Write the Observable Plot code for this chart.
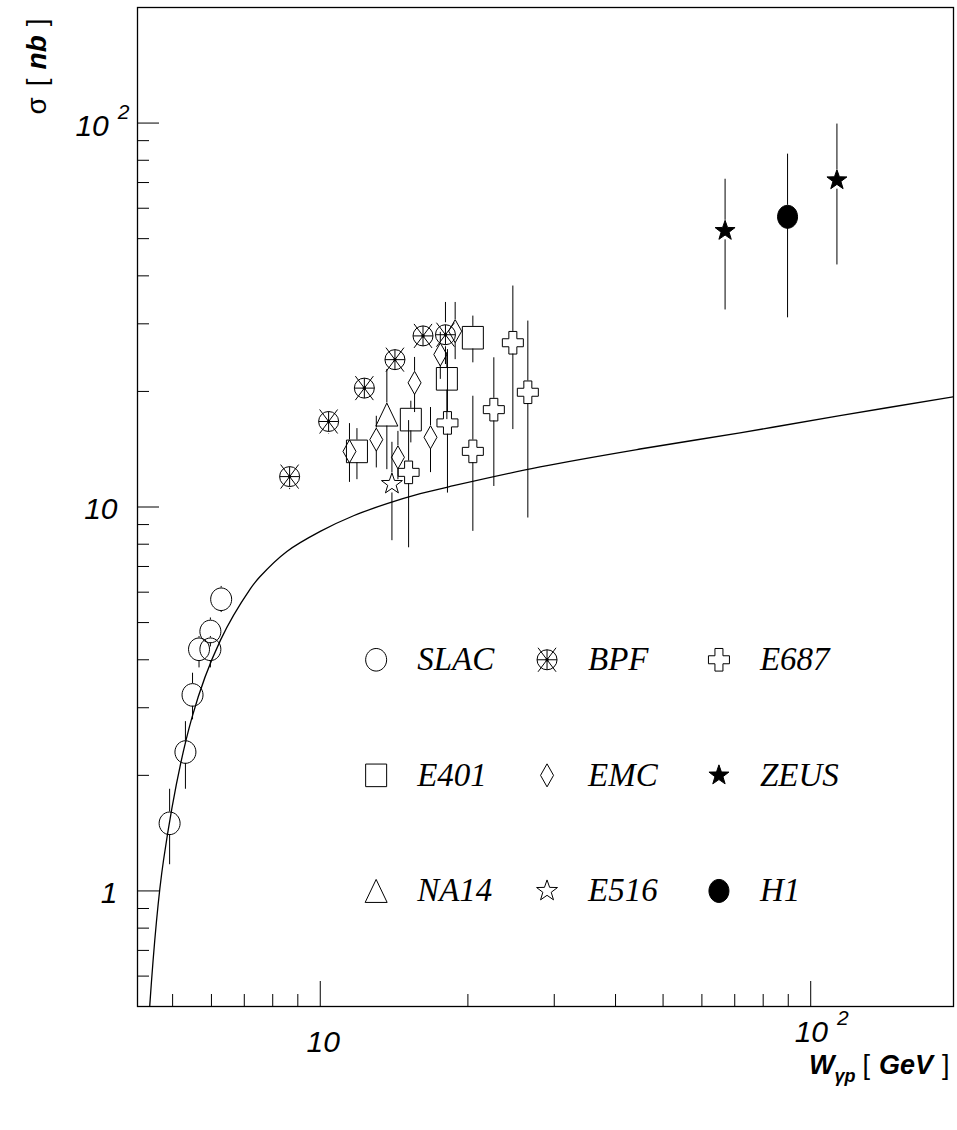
<!DOCTYPE html>
<html><head><meta charset="utf-8">
<script src="https://cdn.jsdelivr.net/npm/d3@7"></script>
<script src="https://cdn.jsdelivr.net/npm/@observablehq/plot@0.6"></script>
<style>body{margin:0;background:#fff}#chart svg{display:block;background:#fff}</style>
</head><body><div id="chart"></div>
<script>
// ---- data: rows are [W (GeV), sigma (nb), sigma at lower bar end, sigma at upper bar end]
const SLAC = [[4.93,1.50,1.17,1.84],[5.31,2.30,1.84,2.76],[5.49,3.24,2.79,3.69],[5.66,4.26,3.81,4.6],[5.97,4.26,3.81,4.6],[5.97,4.74,4.32,5.14],[6.28,5.75,5.31,6.21]];
const BPF  = [[8.66,12.0,11.1,12.9],[10.4,16.7,15.5,17.9],[12.3,20.4,19.0,21.9],[14.2,24.2,22.6,26.0],[16.2,27.9,26.0,29.9],[18.0,28.1,23.5,34.1]];
const E401 = [[11.88,13.96,11.78,16.0],[15.30,16.89,14.69,18.86],[18.12,21.57,16.89,25.26],[20.47,27.6,23.74,31.42]];
const EMC  = [[11.47,13.96,11.59,16.49],[13.01,14.98,12.64,17.23],[14.40,13.47,11.78,15.74],[15.57,21.06,17.62,24.52],[16.78,15.19,12.29,18.16],[17.57,24.96,21.5,28.5],[18.84,28.71,24.2,34.1]];
const NA14 = [[13.67,17.41,12.51,22.81]];
const E516 = [[14.0,11.48,8.17,14.74]];
const E687 = [[15.14,12.31,7.83,16.79],[18.17,16.56,10.87,25.7],[20.47,13.96,8.64,19.43],[22.59,17.93,11.31,24.47],[24.70,26.78,15.91,37.63],[26.50,19.9,9.36,30.5]];
const ZEUS = [[66.9,52.4,32.6,71.4],[113.1,71.0,42.7,99.4]];
const H1   = [[89.7,57.0,31.1,83.0]];
// model curve [W, sigma]
const CURVE = [[4.49,0.5],[4.79,1.20],[5.48,2.84],[6.26,4.50],[7.20,6.12],[7.54,6.59],[8.55,7.66],[10.0,8.64],[11.69,9.49],[13.68,10.20],[15.99,10.83],[18.69,11.36],[28.07,12.72],[44.88,14.16],[71.76,15.60],[114.7,17.30],[195.3,19.36]];
// axis ticks
const xMajor = [10, 100];
const xMinor = [5,6,7,8,9,20,30,40,50,60,70,80,90];
const yMajor = [1, 10, 100];
const yMinor = [0.6,0.7,0.8,0.9,2,3,4,5,6,7,8,9,20,30,40,50,60,70,80,90];
const xPlainLabels = [10], xPowLabels = [100];
const yPlainLabels = [1, 10], yPowLabels = [100];
// legend grid (in data units)
const legendX = [13, 29, 65];
const legendY = [4, 2, 1];

// ---- layout
const W = 957, H = 1130;
const M = {top: 7, right: 4, bottom: 124, left: 137};
const xDomain = [4.24, 195.5], yDomain = [0.5, 200];
const xs = Plot.scale({x: {type: "log", domain: xDomain, range: [M.left, W - M.right]}});
const ys = Plot.scale({y: {type: "log", domain: yDomain, range: [H - M.bottom, M.top]}});

// ---- symbols
function ell(c, rx, ry) { const k = 0.5523; c.moveTo(rx,0); c.bezierCurveTo(rx,ry*k,rx*k,ry,0,ry); c.bezierCurveTo(-rx*k,ry,-rx,ry*k,-rx,0); c.bezierCurveTo(-rx,-ry*k,-rx*k,-ry,0,-ry); c.bezierCurveTo(rx*k,-ry,rx,-ry*k,rx,0); c.closePath(); }
function star(c, R, r) { for (let i = 0; i < 10; i++) { const a = -Math.PI/2 + i*Math.PI/5, q = i % 2 ? r : R; const px = q*Math.cos(a), py = q*Math.sin(a); i ? c.lineTo(px,py) : c.moveTo(px,py); } c.closePath(); }
const symOpenCircle = {draw(c){ ell(c, 10.5, 11.3); }};
const symBPF = {draw(c){ c.moveTo(10,0); c.arc(0,0,10,0,2*Math.PI); c.moveTo(0,-10); c.lineTo(0,10); c.moveTo(-10,0); c.lineTo(10,0); c.moveTo(-9,-12); c.lineTo(9,12); c.moveTo(9,-12); c.lineTo(-9,12); c.moveTo(1.3,0); c.arc(0,0,1.3,0,2*Math.PI); }};
const symSquare = {draw(c){ c.rect(-10.5,-11.3,21,22.6); }};
const symDiamond = {draw(c){ c.moveTo(0,-11.5); c.lineTo(6.5,0); c.lineTo(0,11.5); c.lineTo(-6.5,0); c.closePath(); }};
const symTriangle = {draw(c){ c.moveTo(0,-11.5); c.lineTo(11,11.5); c.lineTo(-11,11.5); c.closePath(); }};
const symOpenStar = {draw(c){ star(c, 11, 4.4); }};
const symCross = {draw(c){ const a=4, b=10.5, v=11.3; c.moveTo(-a,-v); c.lineTo(a,-v); c.lineTo(a,-a); c.lineTo(b,-a); c.lineTo(b,a); c.lineTo(a,a); c.lineTo(a,v); c.lineTo(-a,v); c.lineTo(-a,a); c.lineTo(-b,a); c.lineTo(-b,-a); c.lineTo(-a,-a); c.closePath(); }};
const symFullStar = {draw(c){ star(c, 10.5, 4.2); }};
const symFullCircle = {draw(c){ ell(c, 10, 11.5); }};

const series = [
  {name:"SLAC", rows:SLAC, sym:symOpenCircle, fill:"none", gT:11.3, gB:11.3, col:0, row:0},
  {name:"BPF",  rows:BPF,  sym:symBPF,        fill:"none", gT:12,   gB:12,   col:1, row:0},
  {name:"E401", rows:E401, sym:symSquare,     fill:"none", gT:11.3, gB:11.3, col:0, row:1},
  {name:"EMC",  rows:EMC,  sym:symDiamond,    fill:"none", gT:11.5, gB:11.5, col:1, row:1},
  {name:"NA14", rows:NA14, sym:symTriangle,   fill:"none", gT:11.5, gB:11.5, col:0, row:2},
  {name:"E516", rows:E516, sym:symOpenStar,   fill:"none", gT:11,   gB:9,    col:1, row:2},
  {name:"E687", rows:E687, sym:symCross,      fill:"none", gT:11.3, gB:11.3, col:2, row:0},
  {name:"ZEUS", rows:ZEUS, sym:symFullStar,   fill:"black",gT:10.5, gB:9,    col:2, row:1},
  {name:"H1",   rows:H1,   sym:symFullCircle, fill:"black",gT:11.5, gB:11.5, col:2, row:2}
];

function bars(rows, gT, gB) {
  const out = [];
  for (const [w, s, lo, hi] of rows) {
    const py = ys.apply(s);
    const yb = ys.invert(py + gB), yt = ys.invert(py - gT);
    if (lo < yb) out.push({x: w, y1: lo, y2: yb});
    if (hi > yt) out.push({x: w, y1: yt, y2: hi});
  }
  return out;
}

const sans = "'Liberation Sans', Arial, Helvetica, sans-serif";
const serif = "'Liberation Serif', 'Times New Roman', serif";
const y0 = yDomain[0], x0 = xDomain[0];
const xTickEnd = len => ys.invert(ys.apply(y0) - len);
const yTickEnd = len => xs.invert(xs.apply(x0) + len);

const marks = [
  Plot.frame({stroke: "black", strokeWidth: 1.3}),
  Plot.ruleX(xMajor, {x: d => d, y1: y0, y2: xTickEnd(25), stroke: "black", strokeWidth: 1}),
  Plot.ruleX(xMinor, {x: d => d, y1: y0, y2: xTickEnd(12), stroke: "black", strokeWidth: 1}),
  Plot.ruleY(yMajor, {y: d => d, x1: x0, x2: yTickEnd(22), stroke: "black", strokeWidth: 1}),
  Plot.ruleY(yMinor, {y: d => d, x1: x0, x2: yTickEnd(12), stroke: "black", strokeWidth: 1}),
  Plot.text(yPlainLabels, {y: d => d, frameAnchor: "left", dx: -20, dy: 2, textAnchor: "end", text: d => String(d), fontSize: 30, fontStyle: "italic", fontFamily: sans}),
  Plot.text(yPowLabels, {y: d => d, frameAnchor: "left", dx: -8, dy: 3, textAnchor: "end", text: () => "10^2", fontSize: 30, fontStyle: "italic", fontFamily: sans}),
  Plot.text(xPlainLabels, {x: d => d, frameAnchor: "bottom", dx: 3, dy: 45, text: d => String(d), fontSize: 30, fontStyle: "italic", fontFamily: sans}),
  Plot.text(xPowLabels, {x: d => d, frameAnchor: "bottom", dx: 11, dy: 35, text: () => "10^2", fontSize: 30, fontStyle: "italic", fontFamily: sans}),
  Plot.text(["ytitle"], {frameAnchor: "top-left", dx: -111, dy: 59, rotate: -90, textAnchor: "middle", text: () => "σ [ nb ]", fontSize: 28, fontFamily: sans}),
  Plot.text(["xtitle"], {frameAnchor: "bottom-right", dx: -4, dy: 67, textAnchor: "end", text: () => "W [ GeV ]", fontSize: 27, fontFamily: sans}),
  Plot.line(CURVE, {x: d => d[0], y: d => d[1], curve: "catmull-rom", stroke: "black", strokeWidth: 1.3, clip: true})
];
for (const s of series) {
  marks.push(Plot.ruleX(bars(s.rows, s.gT, s.gB), {x: "x", y1: "y1", y2: "y2", stroke: "black", strokeWidth: 1}));
  marks.push(Plot.dot(s.rows, {x: d => d[0], y: d => d[1], r: 11, symbol: s.sym, fill: s.fill, stroke: "black", strokeWidth: 1}));
}
const legend = series.map(s => ({name: s.name, x: legendX[s.col], y: legendY[s.row], sym: s.sym, fill: s.fill}));
for (const L of legend) {
  marks.push(Plot.dot([L], {x: "x", y: "y", r: 11, symbol: L.sym, fill: L.fill, stroke: "black", strokeWidth: 1}));
}
marks.push(Plot.text(legend, {x: "x", y: "y", text: "name", dx: 41, textAnchor: "start", fontSize: 33, fontStyle: "italic", fontFamily: serif}));

const svg = Plot.plot({
  width: W, height: H,
  marginTop: M.top, marginRight: M.right, marginBottom: M.bottom, marginLeft: M.left,
  x: {type: "log", domain: xDomain, axis: null},
  y: {type: "log", domain: yDomain, axis: null},
  marks
});
document.getElementById("chart").appendChild(svg);

// rich-text post-processing (superscripts, subscripts, bold parts)
const NS = "http://www.w3.org/2000/svg";
function rich(el, parts) {
  el.textContent = "";
  for (const p of parts) {
    const t = document.createElementNS(NS, "tspan");
    t.textContent = p.t;
    for (const [k, v] of Object.entries(p.a || {})) t.setAttribute(k, v);
    el.appendChild(t);
  }
}
const bi = {"font-weight": "bold", "font-style": "italic"};
svg.querySelectorAll("text").forEach(el => {
  const s = el.textContent;
  if (s === "10^2") {
    rich(el, [{t: "10"}, {t: "2", a: {dx: 9, dy: -17, "font-size": 21}}]);
  } else if (s === "σ [ nb ]") {
    rich(el, [{t: "σ"}, {t: "[", a: {dx: 11}}, {t: "nb", a: {dx: 9, ...bi}}, {t: "]", a: {dx: 9}}]);
  } else if (s === "W [ GeV ]") {
    rich(el, [
      {t: "W", a: bi},
      {t: "γp", a: {dy: 8, "font-size": 18, ...bi}},
      {t: "[", a: {dy: -8, dx: 7}},
      {t: "GeV", a: {dx: 9, ...bi}},
      {t: "]", a: {dx: 9}}
    ]);
  }
});
</script>
</body></html>
